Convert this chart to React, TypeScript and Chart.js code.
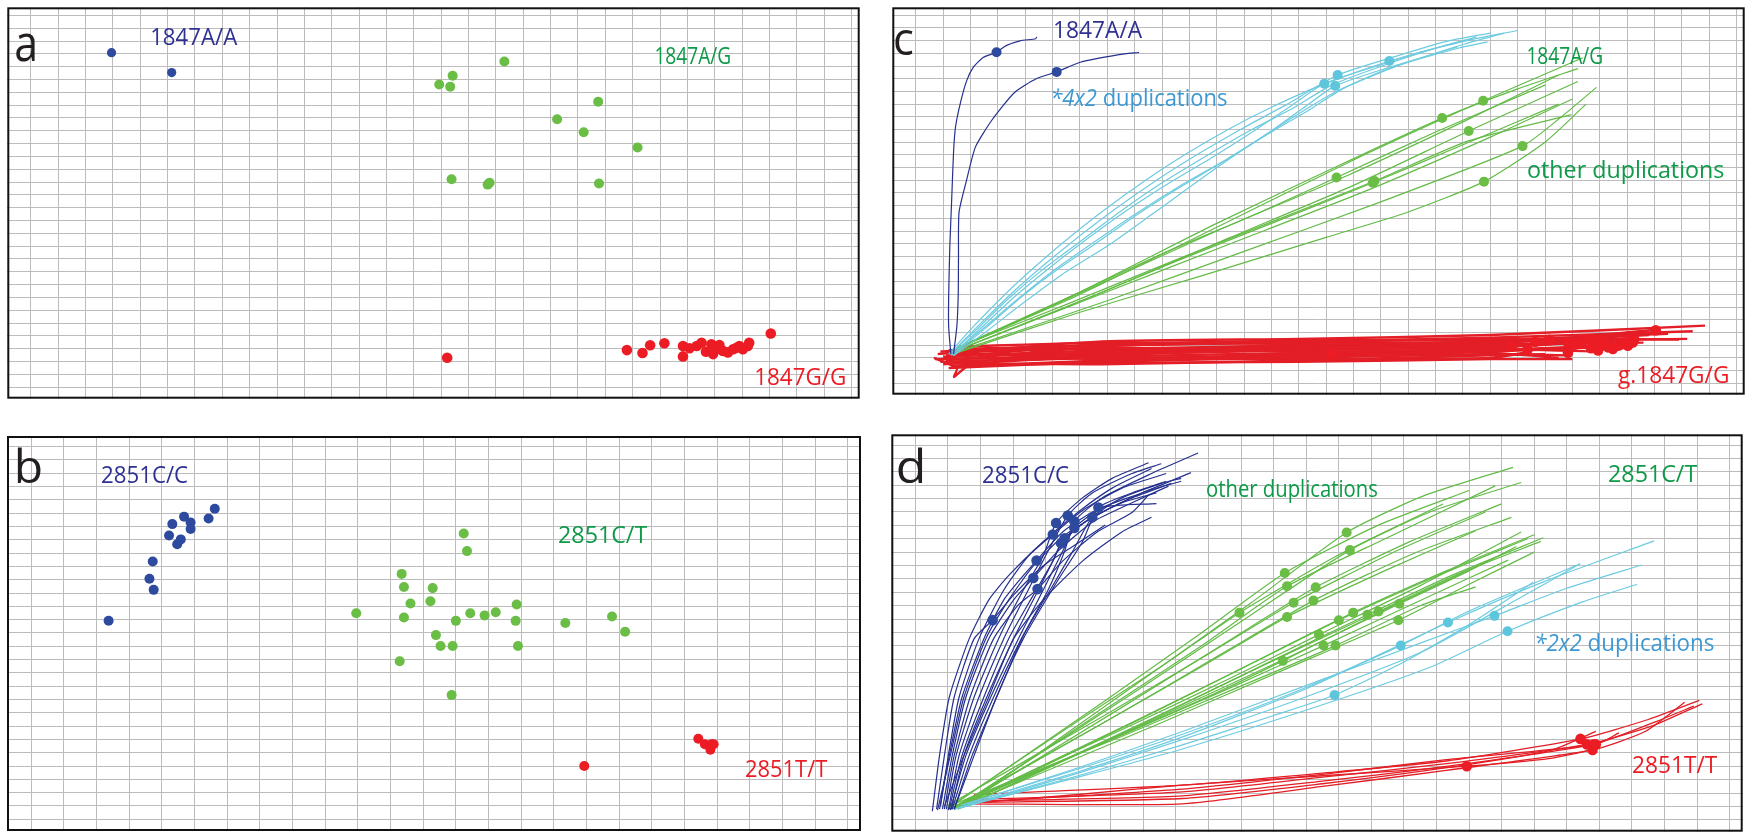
import React, { useEffect, useRef } from "react";
import { Chart, registerables } from "chart.js";
Chart.register(...registerables);

type P = [number, number];

// ---------- 1847 assay (panels a and c share one grid-unit coordinate system) ----------
const AA_1847: P[] = [[2.95, 26.09], [5.15, 24.54]];
const AG_1847_DUP: P[] = [[17.31, 25.4], [14.93, 23.61], [15.42, 24.29], [15.33, 23.44]];
const AG_1847_OTHER: P[] = [[20.74, 22.26], [19.24, 20.9], [20.21, 19.88], [22.18, 18.69], [15.38, 16.22], [16.7, 15.8], [16.77, 15.94], [20.77, 15.89]];
const GG_1847: P[] = [[15.22, 2.3], [21.79, 2.89], [22.36, 2.66], [22.64, 3.27], [23.16, 3.42], [23.84, 3.21], [23.84, 2.4], [24.08, 3.04], [24.34, 3.21], [24.52, 3.47], [24.68, 2.76], [24.88, 3.34], [25.06, 2.96], [24.94, 2.58], [25.17, 3.29], [25.3, 2.83], [25.48, 2.71], [25.67, 2.96], [25.78, 3.06], [25.9, 3.21], [26.03, 2.96], [26.21, 3.21], [26.26, 3.47], [27.05, 4.18]];

// ---------- 2851 assay (panels b and d) ----------
const CC_2851: P[] = [[4.68, 22.74], [4.32, 22.18], [4.88, 22.3], [4.88, 21.81], [4.22, 21.32], [4.58, 21.03], [4.47, 20.66], [5.43, 22.6], [5.62, 23.33], [3.72, 19.37], [3.62, 18.07], [3.75, 17.24], [2.37, 14.92]];
const CT_2851_DUP: P[] = [[12.87, 9.33], [14.9, 13.02], [16.35, 14.75], [17.78, 15.24], [18.18, 14.09]];
const CT_2851_OTHER: P[] = [[13.24, 21.47], [13.34, 20.15], [9.95, 15.48], [11.34, 18.44], [11.41, 17.45], [11.61, 16.22], [12.29, 17.37], [12.22, 16.38], [11.41, 15.16], [13.0, 14.91], [13.44, 15.48], [13.88, 15.32], [14.22, 15.56], [14.86, 16.14], [14.83, 14.91], [12.39, 13.84], [12.53, 13.02], [12.9, 13.02], [11.28, 11.88]];
const TT_2851: P[] = [[20.42, 6.05], [20.62, 5.64], [20.82, 5.64], [20.79, 5.23], [20.89, 5.64], [16.93, 4.01]];

// ---------- trajectories, panel c ----------
const C_BLUE_TRACES: P[][] = [
  [[1.28, 2.32], [1.2, 4.47], [1.2, 6.77], [1.24, 10.6], [1.31, 14.43], [1.38, 18.26], [1.45, 20.18], [1.63, 22.09], [1.86, 23.85], [2.11, 24.93], [2.47, 25.69], [2.95, 26.09], [3.3, 26.61], [3.81, 26.99], [4.38, 27.15], [4.42, 27.3]],
  [[1.38, 2.32], [1.5, 4.5], [1.55, 7.0], [1.56, 10.0], [1.58, 13.49], [1.86, 16.05], [2.18, 18.63], [2.79, 20.77], [3.6, 22.9], [4.4, 24.0], [5.15, 24.54], [6.01, 25.3], [7.43, 25.9], [8.16, 26.07]],
];
const C_CYAN_TRACES: P[][] = [
  [[1.2, 2.3], [2.1, 4.46], [3.2, 6.88], [4.3, 9.08], [5.4, 11.12], [6.9, 13.67], [8.4, 16.0], [9.9, 18.1], [11.5, 20.1], [13.0, 21.75], [15.0, 23.65], [17.31, 25.4], [19.6, 26.76], [22.0, 27.8]],
  [[1.25, 2.3], [2.25, 4.46], [3.4, 6.88], [4.55, 9.08], [5.7, 11.12], [7.25, 13.67], [8.8, 16.0], [10.35, 18.1], [11.95, 20.1], [13.5, 21.9], [15.42, 24.29], [17.6, 25.8], [19.5, 27.0], [21.0, 27.6]],
  [[1.3, 2.2], [2.4, 4.4], [3.6, 6.8], [4.8, 8.95], [6.0, 10.95], [7.6, 13.45], [9.2, 15.7], [10.8, 17.75], [12.3, 19.8], [13.6, 21.7], [14.93, 23.61], [17.0, 25.1], [19.0, 26.4], [20.3, 27.1]],
  [[1.35, 2.2], [2.55, 4.35], [3.8, 6.7], [5.1, 8.85], [6.5, 10.9], [8.1, 13.3], [9.7, 15.5], [11.3, 17.55], [12.8, 19.6], [14.1, 21.6], [15.33, 23.44], [17.3, 24.9], [19.8, 26.5]],
  [[1.38, 2.17], [2.65, 4.2], [3.91, 6.3], [5.36, 8.6], [7.06, 10.9], [8.61, 13.28], [11.14, 17.2], [13.67, 20.8], [15.37, 23.0], [17.29, 24.8], [19.82, 26.4], [20.9, 26.9]],
  [[1.25, 2.28], [2.3, 4.4], [3.4, 6.7], [4.6, 8.9], [5.9, 11.0], [7.45, 13.5], [9.0, 15.8], [10.6, 17.9], [12.2, 19.9], [13.8, 21.7], [15.2, 23.5], [17.3, 25.2], [19.3, 26.6], [20.5, 27.3]],
  [[1.3, 2.24], [2.45, 4.3], [3.65, 6.5], [4.95, 8.75], [6.4, 10.95], [8.0, 13.3], [9.7, 15.6], [11.4, 17.7], [13.0, 19.8], [14.5, 21.7], [15.6, 23.2], [17.6, 25.0], [20.0, 26.7], [21.5, 27.6]],
];
const C_GREEN_TRACES: P[][] = [
  [[1.5, 2.8], [6.0, 7.0], [11.0, 12.3], [16.0, 17.6], [20.74, 22.26], [24.38, 25.65]],
  [[1.4, 2.6], [6.0, 7.2], [11.0, 12.6], [15.5, 17.2], [19.24, 20.9], [22.0, 23.2], [24.2, 24.8]],
  [[1.6, 2.7], [6.5, 6.9], [11.5, 11.5], [16.0, 15.6], [20.21, 19.88], [24.2, 23.78]],
  [[1.5, 2.5], [7.0, 6.5], [12.0, 10.4], [17.0, 14.3], [22.18, 18.69], [23.6, 21.0], [24.88, 23.32]],
  [[1.4, 2.7], [5.0, 6.2], [9.0, 10.2], [12.5, 13.4], [15.38, 16.22], [19.0, 19.8], [23.0, 23.5]],
  [[1.5, 2.6], [5.5, 6.0], [9.5, 9.6], [13.0, 12.6], [16.7, 15.8], [20.0, 18.8], [23.5, 22.0]],
  [[1.6, 2.9], [5.6, 6.3], [9.6, 9.8], [13.1, 12.8], [16.77, 15.94], [20.2, 19.1], [23.97, 21.17]],
  [[1.5, 2.4], [6.0, 5.6], [10.5, 8.5], [15.0, 11.5], [18.0, 13.5], [20.77, 15.89], [23.0, 19.0], [24.5, 22.0]],
  [[1.4, 2.5], [6.5, 6.8], [11.5, 11.0], [16.5, 15.2], [21.0, 19.4], [24.0, 22.4]],
  [[1.5, 2.7], [6.2, 7.3], [11.0, 12.0], [15.8, 16.4], [20.0, 20.6], [23.5, 24.3]],
];
const C_RED_TRACES: P[][] = [
  [[0.8, 2.3], [6.8, 3.3], [14, 3.5], [21, 3.8], [28.85, 4.54]],
  [[1.0, 2.0], [6.8, 3.1], [14, 3.3], [21, 3.6], [28.4, 4.1]],
  [[1.1, 1.8], [6.8, 2.9], [14, 3.2], [21, 3.5], [27.9, 3.45]],
  [[1.2, 2.6], [6.8, 2.7], [14, 3.0], [21, 3.3], [28.2, 3.5]],
  [[1.0, 1.5], [6.8, 2.5], [14, 2.8], [21, 3.1], [27.0, 4.2]],
  [[1.3, 2.2], [6.8, 2.3], [14, 2.6], [21, 2.9], [26.0, 3.4]],
  [[0.7, 1.9], [6.8, 2.1], [14, 2.4], [21, 2.7], [25.0, 2.5]],
  [[1.4, 2.4], [6.8, 1.9], [14, 2.2], [21, 2.5], [24.5, 2.8]],
  [[1.2, 1.2], [6.8, 1.7], [14, 2.0], [21, 2.3], [23.9, 2.2]],
  [[1.5, 1.6], [6.8, 1.5], [14, 1.8], [21, 2.2], [23.0, 2.3]],
  [[1.6, 2.9], [6.8, 3.2], [14, 3.1], [21, 3.0], [26.4, 3.6]],
  [[1.1, 2.4], [6.8, 2.8], [14, 2.5], [21, 2.6], [25.5, 3.0]],
  [[0.9, 1.7], [6.8, 2.0], [14, 1.9], [21, 2.0], [22.5, 2.5]],
  [[1.3, 1.4], [6.8, 1.6], [14, 1.7], [21, 1.9], [24.0, 1.9]],
  [[1.5, 2.7], [6.8, 3.0], [14, 3.4], [21, 3.4], [27.5, 3.9]],
  [[1.0, 2.1], [6.8, 2.6], [14, 2.9], [21, 3.2], [26.8, 3.8]],
  [[1.2, 1.9], [6.8, 2.2], [14, 2.7], [21, 2.8], [24.9, 3.3]],
  [[1.4, 1.3], [6.8, 1.8], [14, 2.3], [21, 2.4], [23.5, 2.0]],
  [[0.66, 2.0], [1.5, 1.2], [1.4, 0.5], [2.0, 1.5], [6.8, 2.0], [14, 2.1], [20, 2.3]],
  [[1.1, 2.2], [6.8, 2.4], [14, 2.75], [21, 3.05], [26.6, 3.2]],
  [[0.9, 2.5], [6.8, 3.05], [14, 3.25], [21, 3.2], [27.3, 4.0]],
];

// ---------- trajectories, panel d ----------
const D_BLUE_TRACES: P[][] = [
  [[0.65, 0.8], [0.89, 4.8], [1.19, 9.16], [1.8, 13.52], [2.37, 14.92], [3.01, 16.79], [3.92, 18.97], [4.83, 20.42], [5.83, 22.02]],
  [[0.74, 0.8], [1.04, 4.8], [1.43, 9.16], [2.1, 13.52], [2.71, 16.42], [3.31, 18.24], [3.72, 19.37], [4.52, 21.51], [5.73, 23.33], [7.4, 23.62]],
  [[0.83, 0.8], [1.13, 4.8], [1.55, 9.16], [2.25, 13.52], [3.01, 16.42], [3.62, 18.07], [4.37, 20.06], [5.43, 22.24], [6.65, 23.69], [7.77, 24.93]],
  [[0.89, 0.8], [1.19, 4.8], [1.68, 9.16], [2.4, 13.52], [3.16, 16.06], [3.75, 17.24], [4.52, 19.33], [5.58, 21.51], [6.65, 22.96], [7.16, 24.27]],
  [[0.77, 1.02], [1.01, 4.8], [1.34, 9.16], [1.95, 13.52], [2.71, 17.15], [3.46, 19.69], [4.22, 21.32], [5.13, 23.11], [6.34, 24.78], [7.7, 25.87]],
  [[0.95, 0.8], [1.25, 4.8], [1.8, 9.16], [2.55, 13.52], [3.31, 17.15], [3.92, 19.69], [4.32, 22.18], [5.13, 24.05], [6.04, 25.51], [7.16, 26.67]],
  [[1.01, 0.73], [1.34, 4.8], [1.95, 9.16], [2.71, 13.52], [3.46, 17.15], [4.07, 20.06], [4.68, 22.74], [5.43, 24.42], [6.65, 25.87], [7.55, 26.6]],
  [[1.04, 0.8], [1.43, 4.8], [2.1, 9.16], [2.86, 13.52], [3.62, 16.79], [4.22, 19.33], [4.47, 20.66], [5.28, 22.38], [6.34, 23.69], [7.4, 24.42]],
  [[1.1, 0.8], [1.49, 4.8], [2.19, 9.16], [3.01, 13.52], [3.77, 17.15], [4.22, 19.33], [4.58, 21.03], [5.43, 22.6], [6.65, 24.05], [7.86, 25.14]],
  [[1.07, 0.73], [1.55, 4.8], [2.31, 9.16], [3.16, 13.52], [3.92, 17.15], [4.52, 20.06], [4.88, 21.81], [5.73, 23.33], [6.95, 24.42], [8.46, 25.94]],
  [[1.13, 0.8], [1.65, 4.8], [2.4, 9.16], [3.25, 13.52], [4.07, 17.15], [4.58, 20.06], [4.88, 22.3], [5.73, 24.05], [7.25, 25.87], [8.68, 27.4]],
  [[1.19, 0.8], [1.74, 4.8], [2.49, 9.16], [3.31, 13.74], [4.22, 17.51], [4.83, 20.06], [5.43, 22.6], [6.34, 24.05], [7.55, 25.14], [8.16, 25.51]],
  [[1.19, 0.8], [1.8, 4.8], [2.49, 9.16], [3.31, 13.52], [4.37, 17.88], [5.13, 20.78], [5.62, 23.33], [6.65, 24.42], [7.7, 25.29]],
  [[0.52, 0.65], [0.74, 4.8], [1.04, 9.16], [1.65, 13.52], [2.25, 16.42], [2.86, 18.24], [3.92, 20.78], [4.98, 22.96], [6.04, 24.78], [7.25, 26.24]],
  [[0.68, 0.73], [1.07, 4.8], [1.49, 9.16], [2.16, 13.52], [2.86, 16.42], [3.62, 18.97], [4.52, 21.15], [5.73, 22.96], [6.95, 24.42], [8.16, 25.29]],
  [[0.89, 1.02], [1.49, 4.8], [2.25, 9.16], [3.01, 13.52], [3.92, 16.42], [5.13, 19.33], [6.34, 21.51], [7.25, 22.6]],
];
const D_GREEN_TRACES: P[][] = [
  [[1.0, 0.9], [5.0, 7.4], [7.7, 11.7], [9.95, 15.48], [13.0, 19.8], [16.2, 23.6]],
  [[1.1, 1.0], [5.7, 8.7], [8.8, 14.0], [11.34, 18.44], [14.2, 22.0], [17.0, 24.6]],
  [[1.2, 0.8], [5.8, 8.2], [8.9, 13.2], [11.41, 17.45], [14.6, 21.2], [17.8, 24.95]],
  [[1.0, 1.1], [5.8, 7.8], [9.0, 12.4], [11.61, 16.22], [14.6, 19.9], [17.5, 23.0]],
  [[1.3, 0.9], [6.2, 8.2], [9.5, 13.2], [12.29, 17.37], [15.2, 20.8], [18.0, 23.6]],
  [[1.1, 0.8], [6.1, 7.7], [9.4, 12.4], [12.22, 16.38], [15.3, 19.9], [18.3, 22.6]],
  [[1.2, 1.0], [5.8, 7.3], [8.9, 11.6], [11.41, 15.16], [14.4, 18.6], [17.2, 21.6]],
  [[1.4, 0.9], [6.7, 10.0], [10.3, 16.2], [13.24, 21.47], [15.6, 24.2], [18.35, 26.33]],
  [[1.3, 1.0], [6.7, 9.5], [10.3, 15.3], [13.34, 20.15], [15.8, 23.0], [18.6, 25.2]],
  [[1.2, 0.9], [6.5, 7.1], [10.1, 11.4], [13.0, 14.91], [16.0, 18.2], [18.8, 21.0]],
  [[1.4, 1.0], [6.8, 7.4], [10.4, 11.8], [13.44, 15.48], [16.3, 18.6], [19.0, 21.3]],
  [[1.3, 0.8], [7.0, 7.2], [10.7, 11.6], [13.88, 15.32], [16.5, 18.3], [19.28, 21.07]],
  [[1.5, 1.0], [7.2, 7.5], [11.0, 11.9], [14.22, 15.56], [16.7, 18.4], [19.2, 20.8]],
  [[1.4, 0.9], [7.5, 7.7], [11.5, 12.2], [14.86, 16.14], [17.0, 18.6], [18.45, 20.42]],
  [[1.2, 0.8], [7.3, 7.0], [11.4, 11.3], [14.83, 14.91], [17.0, 17.6], [19.0, 20.0]],
  [[1.3, 1.1], [6.3, 6.7], [9.6, 10.5], [12.39, 13.84], [15.5, 17.5], [18.6, 21.5]],
  [[1.1, 0.9], [6.2, 6.2], [9.7, 9.9], [12.53, 13.02], [15.6, 16.5], [18.2, 19.4]],
  [[1.0, 1.0], [6.4, 6.3], [9.9, 9.9], [12.9, 13.02], [15.5, 16.0], [17.2, 17.4]],
  [[1.2, 0.9], [5.7, 5.7], [8.8, 9.0], [11.28, 11.88], [14.5, 15.8], [17.8, 19.6]],
];
const D_CYAN_TRACES: P[][] = [
  [[1.5, 1.0], [5.0, 3.3], [8.2, 5.6], [11.0, 7.8], [12.87, 9.33], [15.0, 11.8], [17.0, 14.6], [18.97, 17.75]],
  [[1.4, 1.1], [5.0, 3.8], [8.2, 6.4], [11.5, 9.4], [14.9, 13.02], [17.0, 15.6], [20.41, 19.13]],
  [[1.3, 0.9], [5.0, 3.6], [8.2, 6.2], [12.0, 9.8], [16.35, 14.75], [19.3, 17.8], [22.68, 20.84]],
  [[1.6, 1.2], [5.0, 3.9], [8.2, 6.6], [12.5, 10.5], [15.5, 13.2], [17.78, 15.24], [20.0, 17.3], [22.3, 19.04]],
  [[1.2, 0.8], [5.0, 3.2], [8.2, 5.3], [12.5, 8.6], [15.8, 11.4], [18.18, 14.09], [20.5, 16.3], [22.16, 17.6]],
  [[1.4, 0.9], [5.0, 3.5], [8.2, 6.0], [12.0, 9.2], [15.5, 12.5], [18.5, 16.5], [20.41, 19.13]],
];
const D_RED_TRACES: P[][] = [
  [[1.5, 1.2], [5.0, 1.9], [8.2, 2.6], [12.5, 3.3], [16.93, 4.01], [19.5, 4.6], [20.9, 5.3]],
  [[1.8, 1.9], [8.2, 2.6], [12.5, 3.5], [16.3, 4.4], [20.42, 6.05], [22.5, 7.5], [24.07, 8.92]],
  [[1.6, 1.5], [8.2, 2.1], [12.5, 3.2], [16.3, 4.2], [20.62, 5.64], [22.6, 7.0], [24.16, 8.67]],
  [[1.5, 1.2], [8.2, 1.2], [12.5, 2.5], [16.3, 3.7], [20.79, 5.23], [22.4, 6.6], [23.62, 8.79]],
  [[1.7, 1.4], [8.2, 1.8], [12.5, 2.9], [16.3, 4.0], [20.82, 5.64], [22.8, 7.4], [23.9, 8.5]],
  [[1.6, 1.3], [8.2, 2.3], [12.5, 3.4], [16.3, 4.5], [20.89, 5.64], [21.6, 6.5]],
  [[1.5, 1.3], [8.2, 1.6], [12.5, 2.7], [16.3, 3.9], [19.5, 5.2], [20.89, 6.61]],
];

// axis ranges (grid units; one grid line per unit)
const X_RANGE_AC: P = [-0.86, 30.3];
const Y_RANGE_AC: P = [-0.9, 29.63];
const X_RANGE_BD: P = [-0.74, 25.4];
const Y_RANGE_BD: P = [-0.88, 28.8];

// ---------- colours ----------
const GRID = "#bcbcbc";
const NAVY_TEXT = "#2e3192";
const BLUE_DOT = "#2d4a9e";
const NAVY_LINE = "#25308f";
const GREEN_TEXT = "#0e9a48";
const GREEN_DOT = "#6abd45";
const GREEN_LINE = "#63bb46";
const RED = "#ec1c24";
const RED_LINE = "#e31e26";
const CYAN_DOT = "#5ec6dc";
const CYAN_LINE = "#6ccbe0";
const DUP_TEXT = "#3d98d4";
const BLACK = "#231f20";

type Part = { t: string; italic?: boolean };
type Label = { parts: Part[]; x: number; y: number; w: number; size: number; color: string };
const L = (t: string, x: number, y: number, w: number, size: number, color: string): Label => ({ parts: [{ t }], x, y, w, size, color });

type PanelSpec = {
  left: number; top: number; w: number; h: number;
  xr: P; yr: P;
  datasets: any[];
  labels: Label[];
};

const FONT = '"Open Sans", "Noto Sans", "DejaVu Sans", sans-serif';

function lines(traces: P[][], color: string, width: number) {
  return traces.map((t) => ({
    data: t.map(([x, y]) => ({ x, y })),
    showLine: true,
    borderColor: color,
    borderWidth: width,
    pointRadius: 0,
    tension: 0.2,
    fill: false,
    order: 5,
  }));
}
function dots(pts: P[], color: string, r: number) {
  return {
    data: pts.map(([x, y]) => ({ x, y })),
    showLine: false,
    backgroundColor: color,
    borderWidth: 0,
    pointRadius: r,
    order: 0,
  };
}

function scale(r: P) {
  return {
    type: "linear",
    min: r[0],
    max: r[1],
    bounds: "ticks",
    ticks: { display: false, stepSize: 1, includeBounds: false, autoSkip: false },
    afterBuildTicks: (s: any) => {
      const t: any[] = [];
      for (let v = Math.ceil(r[0]); v <= Math.floor(r[1]); v++) t.push({ value: v });
      s.ticks = t;
    },
    grid: { color: GRID, lineWidth: 1, drawTicks: false },
    border: { display: false },
  };
}

function drawLabel(ctx: CanvasRenderingContext2D, lab: Label, ox: number, oy: number) {
  ctx.save();
  ctx.textBaseline = "alphabetic";
  ctx.textAlign = "left";
  const fonts = lab.parts.map((p) => `${p.italic ? "italic " : ""}${lab.size}px ${FONT}`);
  const ms = lab.parts.map((p, i) => {
    ctx.font = fonts[i];
    return ctx.measureText(p.t);
  });
  let adv = 0;
  for (let i = 0; i < ms.length - 1; i++) adv += ms[i].width;
  const inkLeft = ms[0].actualBoundingBoxLeft;
  const inkW = inkLeft + adv + ms[ms.length - 1].actualBoundingBoxRight;
  const s = lab.w / inkW;
  ctx.translate(lab.x - ox, lab.y - oy);
  ctx.scale(s, 1);
  ctx.fillStyle = lab.color;
  let cx = inkLeft;
  lab.parts.forEach((p, i) => {
    ctx.font = fonts[i];
    ctx.fillText(p.t, cx, 0);
    cx += ms[i].width;
  });
  ctx.restore();
}

function Panel({ spec }: { spec: PanelSpec }) {
  const ref = useRef<HTMLCanvasElement>(null);
  useEffect(() => {
    const framePlugin = {
      id: "frame",
      beforeDraw(chart: any) {
        const c = chart.ctx;
        c.save();
        c.fillStyle = "#ffffff";
        c.fillRect(0, 0, chart.width, chart.height);
        c.restore();
      },
      afterDatasetsDraw(chart: any) {
        const c = chart.ctx;
        spec.labels.forEach((lab) => drawLabel(c, lab, spec.left, spec.top));
      },
      afterDraw(chart: any) {
        const c = chart.ctx;
        const a = chart.chartArea;
        c.save();
        c.strokeStyle = "#111111";
        c.lineWidth = 2;
        c.strokeRect(a.left + 1, a.top + 1, a.right - a.left - 2, a.bottom - a.top - 2);
        c.restore();
      },
    };
    const chart = new Chart(ref.current as HTMLCanvasElement, {
      type: "scatter",
      data: { datasets: spec.datasets },
      options: {
        animation: false,
        responsive: false,
        maintainAspectRatio: false,
        devicePixelRatio: 1,
        events: [],
        layout: { padding: 0 },
        plugins: { legend: { display: false }, tooltip: { enabled: false }, title: { display: false } },
        scales: { x: scale(spec.xr) as any, y: scale(spec.yr) as any },
      },
      plugins: [framePlugin],
    } as any);
    return () => chart.destroy();
  }, []);
  return (
    <canvas
      ref={ref}
      width={spec.w}
      height={spec.h}
      style={{ position: "absolute", left: spec.left, top: spec.top, width: spec.w, height: spec.h, display: "block" }}
    />
  );
}

const PANELS: PanelSpec[] = [
  {
    left: 2, top: 2, w: 863, h: 402, xr: X_RANGE_AC, yr: Y_RANGE_AC,
    datasets: [
      dots(AA_1847, BLUE_DOT, 4.6),
      dots([...AG_1847_DUP, ...AG_1847_OTHER], GREEN_DOT, 5.0),
      dots(GG_1847, RED, 5.3),
    ],
    labels: [
      L("a", 16, 61, 19, 52, BLACK),
      L("1847A/A", 152, 45, 86, 24, NAVY_TEXT),
      L("1847A/G", 656, 64, 74, 24, GREEN_TEXT),
      L("1847G/G", 756, 385, 89, 24, RED),
    ],
  },
  {
    left: 887, top: 2, w: 863, h: 398, xr: X_RANGE_AC, yr: Y_RANGE_AC,
    datasets: [
      dots(AA_1847, BLUE_DOT, 5.0),
      dots(AG_1847_DUP, CYAN_DOT, 5.0),
      dots(AG_1847_OTHER, GREEN_DOT, 5.0),
      dots(GG_1847, RED, 5.3),
      ...lines(C_BLUE_TRACES, NAVY_LINE, 1.2),
      ...lines(C_CYAN_TRACES, CYAN_LINE, 1.2),
      ...lines(C_GREEN_TRACES, GREEN_LINE, 1.2),
      ...lines(C_RED_TRACES, RED_LINE, 2.4),
    ],
    labels: [
      L("c", 895, 55, 18, 46, BLACK),
      L("1847A/A", 1055, 38, 88, 24, NAVY_TEXT),
      { parts: [{ t: "*4x2", italic: true }, { t: " duplications" }], x: 1052, y: 106, w: 175, size: 24, color: DUP_TEXT },
      L("1847A/G", 1528, 64, 74, 24, GREEN_TEXT),
      L("other duplications", 1528, 178, 196, 24, GREEN_TEXT),
      L("g.1847G/G", 1618, 383, 110, 24, RED),
    ],
  },
  {
    left: 2, top: 431, w: 864, h: 405, xr: X_RANGE_BD, yr: Y_RANGE_BD,
    datasets: [
      dots(CC_2851, BLUE_DOT, 5.0),
      dots([...CT_2851_DUP, ...CT_2851_OTHER], GREEN_DOT, 5.0),
      dots(TT_2851, RED, 5.0),
    ],
    labels: [
      L("b", 17, 483, 24, 46, BLACK),
      L("2851C/C", 102, 483, 86, 24, NAVY_TEXT),
      L("2851C/T", 559, 543, 88, 24, GREEN_TEXT),
      L("2851T/T", 746, 777, 81, 24, RED),
    ],
  },
  {
    left: 886, top: 429, w: 862, h: 408, xr: X_RANGE_BD, yr: Y_RANGE_BD,
    datasets: [
      dots(CC_2851, BLUE_DOT, 5.3),
      dots(CT_2851_DUP, CYAN_DOT, 5.0),
      dots(CT_2851_OTHER, GREEN_DOT, 5.0),
      dots(TT_2851, RED, 5.3),
      ...lines(D_BLUE_TRACES, NAVY_LINE, 1.2),
      ...lines(D_CYAN_TRACES, CYAN_LINE, 1.2),
      ...lines(D_GREEN_TRACES, GREEN_LINE, 1.2),
      ...lines(D_RED_TRACES, RED_LINE, 1.3),
    ],
    labels: [
      L("d", 898, 483, 25, 46, BLACK),
      L("2851C/C", 983, 483, 86, 24, NAVY_TEXT),
      L("other duplications", 1207, 497, 170, 23, GREEN_TEXT),
      L("2851C/T", 1609, 482, 88, 24, GREEN_TEXT),
      { parts: [{ t: "*2x2", italic: true }, { t: " duplications" }], x: 1536, y: 651, w: 178, size: 24, color: DUP_TEXT },
      L("2851T/T", 1633, 773, 84, 24, RED),
    ],
  },
];

export default function App() {
  return (
    <div style={{ position: "fixed", left: 0, top: 0, width: 1752, height: 840, background: "#ffffff", overflow: "hidden" }}>
      {PANELS.map((p, i) => (
        <Panel key={i} spec={p} />
      ))}
    </div>
  );
}
